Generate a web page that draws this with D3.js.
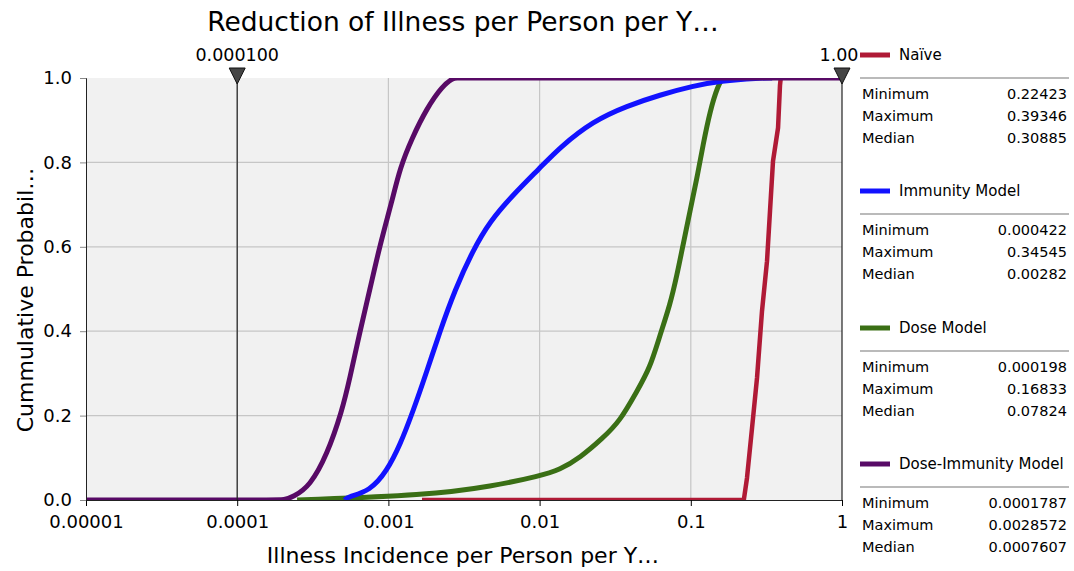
<!DOCTYPE html>
<html><head><meta charset="utf-8">
<script src="https://cdn.jsdelivr.net/npm/d3@7"></script>
<style>body{margin:0;background:#fff}svg{display:block}text{font-family:"DejaVu Sans",sans-serif;fill:#000}</style>
</head><body><svg id="c" width="1074" height="571"></svg>
<script>
const title = "Reduction of Illness per Person per Y\u2026";
const xTitle = "Illness Incidence per Person per Y\u2026";
const yTitle = "Cummulative Probabil\u2026";
const xTickValues = [0.00001, 0.0001, 0.001, 0.01, 0.1, 1];
const xTickLabels = ["0.00001", "0.0001", "0.001", "0.01", "0.1", "1"];
const yTickValues = [0, 0.2, 0.4, 0.6, 0.8, 1.0];
const markerValues = [0.0001, 1];
const markerLabels = ["0.000100", "1.00"];
const seriesNames = ["Naïve", "Immunity Model", "Dose Model", "Dose-Immunity Model"];
const seriesColors = ["#b01a36", "#1212ff", "#3a6f15", "#580a66"];
const statLabels = ["Minimum", "Maximum", "Median"];
const statValues = [
  ["0.22423", "0.39346", "0.30885"],
  ["0.000422", "0.34545", "0.00282"],
  ["0.000198", "0.16833", "0.07824"],
  ["0.0001787", "0.0028572", "0.0007607"]
];
// CDF points [value, cumulative probability]
const naive = [[0.001668,0],[0.2242,0],[0.2353,0.052],[0.254,0.17],[0.2741,0.289],[0.2958,0.448],[0.3192,0.566],[0.3341,0.685],[0.3497,0.803],[0.3776,0.882],[0.389,0.983],[0.3935,1.0]];
const immunity = [[0.000516,0],[0.000532,0.007],[0.000756,0.021],[0.000979,0.069],[0.001193,0.13],[0.001455,0.21],[0.0018,0.306],[0.002194,0.40],[0.00275,0.497],[0.0036,0.59],[0.004699,0.661],[0.006672,0.723],[0.01006,0.787],[0.01364,0.836],[0.02256,0.898],[0.03784,0.934],[0.06256,0.96],[0.1034,0.981],[0.156,0.993],[0.2869,1.0],[0.34545,1.0]];
const dose = [[0.000249,0],[0.0018,0.011],[0.004918,0.033],[0.01006,0.057],[0.01364,0.072],[0.0185,0.10],[0.02626,0.147],[0.03401,0.187],[0.04408,0.258],[0.05373,0.313],[0.06256,0.391],[0.07284,0.462],[0.08101,0.533],[0.0888,0.604],[0.09879,0.685],[0.1099,0.763],[0.1204,0.841],[0.134,0.922],[0.1513,0.983],[0.1633,1.0],[0.16833,1.0]];
const doseImmunity = [[0.00001,0],[0.00019,0],[0.000201,0],[0.000234,0.007],[0.000303,0.033],[0.0003925,0.107],[0.000493,0.21],[0.000557,0.29],[0.000649,0.40],[0.0007555,0.50],[0.00088,0.605],[0.001056,0.708],[0.001193,0.787],[0.001433,0.858],[0.0018,0.929],[0.002262,0.98],[0.002674,1.0],[0.0028572,1.0],[0.003,1.0],[1,1.0]];
const allSeries = [naive, immunity, dose, doseImmunity];

const svg = d3.select("#c");
const L = 86, R = 842, T = 78, B = 500;
const x = d3.scaleLog().domain([0.00001, 1]).range([L, R]);
const y = d3.scaleLinear().domain([0, 1]).range([B, T]);

svg.append("rect").attr("x", L).attr("y", T).attr("width", R - L).attr("height", B - T).attr("fill", "#f1f1f1");
// grid
svg.append("g").selectAll("line").data(xTickValues.slice(1, -1)).join("line")
  .attr("x1", d => x(d)).attr("x2", d => x(d)).attr("y1", T).attr("y2", B)
  .attr("stroke", "#c6c6c6").attr("stroke-width", 1.2);
svg.append("g").selectAll("line").data(yTickValues.slice(1, -1)).join("line")
  .attr("x1", L).attr("x2", R).attr("y1", d => y(d)).attr("y2", d => y(d))
  .attr("stroke", "#c6c6c6").attr("stroke-width", 1.2);

svg.append("defs").append("clipPath").attr("id", "clip").append("rect")
  .attr("x", L).attr("y", T).attr("width", R - L).attr("height", B - T + 1);

const smooth = d3.line().x(d => x(d[0])).y(d => y(d[1])).curve(d3.curveBasis);
const straight = d3.line().x(d => x(d[0])).y(d => y(d[1]));
const order = [0, 2, 1, 3];
const g = svg.append("g").attr("clip-path", "url(#clip)");
order.forEach(i => {
  g.append("path").attr("d", (i === 0 ? straight : smooth)(allSeries[i])).attr("fill", "none")
    .attr("stroke", seriesColors[i]).attr("stroke-width", i === 0 ? 4.5 : 5)
    .attr("stroke-linejoin", "round");
});

// axes
const xAxis = d3.axisBottom(x).tickValues(xTickValues).tickFormat((d, i) => xTickLabels[i]).tickSize(6).tickPadding(9);
const gx = svg.append("g").attr("transform", `translate(0,${B})`).call(xAxis);
gx.select(".domain").attr("stroke", "#222");
gx.selectAll("text").style("font-size", "18px");
const yAxis = d3.axisLeft(y).tickValues(yTickValues).tickFormat(d3.format(".1f")).tickSize(6).tickPadding(8);
const gy = svg.append("g").attr("transform", `translate(${L},0)`).call(yAxis);
gy.select(".domain").attr("stroke", "#222");
gy.selectAll("text").style("font-size", "18px");
gy.selectAll(".tick line").attr("stroke", "#888");

// markers
markerValues.forEach((v, i) => {
  const mx = x(v);
  svg.append("line").attr("x1", mx).attr("x2", mx).attr("y1", 76).attr("y2", B).attr("stroke", "#222").attr("stroke-width", 1.2);
  svg.append("path").attr("d", `M${mx - 8},68 L${mx + 8},68 L${mx},84 Z`).attr("fill", "#454545").attr("stroke", "#111");
  svg.append("text").attr("x", i === 1 ? mx - 3 : mx).attr("y", 61).attr("text-anchor", "middle").style("font-size", "17.5px").text(markerLabels[i]);
});

// titles
svg.append("text").attr("x", 463).attr("y", 31).attr("text-anchor", "middle").style("font-size", "26.5px").text(title);
svg.append("text").attr("x", 463).attr("y", 563).attr("text-anchor", "middle").style("font-size", "22px").text(xTitle);
svg.append("text").attr("transform", "translate(33,300) rotate(-90)").attr("text-anchor", "middle").style("font-size", "22px").text(yTitle);

// legend
const legTop = [55, 191, 328, 464];
seriesNames.forEach((name, i) => {
  const ly = legTop[i];
  const lg = svg.append("g");
  lg.append("line").attr("x1", 860).attr("x2", 890).attr("y1", ly).attr("y2", ly).attr("stroke", seriesColors[i]).attr("stroke-width", 5);
  lg.append("text").attr("x", 899).attr("y", ly).attr("dy", "0.35em").style("font-size", "15px").text(name);
  lg.append("line").attr("x1", 860).attr("x2", 1069).attr("y1", ly + 23).attr("y2", ly + 23).attr("stroke", "#777").attr("stroke-width", 1.2);
  statLabels.forEach((s, j) => {
    const ry = ly + 39 + j * 22;
    lg.append("text").attr("x", 862).attr("y", ry).attr("dy", "0.35em").style("font-size", "14.5px").text(s);
    lg.append("text").attr("x", 1067).attr("y", ry).attr("dy", "0.35em").attr("text-anchor", "end").style("font-size", "14.5px").text(statValues[i][j]);
  });
});
</script></body></html>
